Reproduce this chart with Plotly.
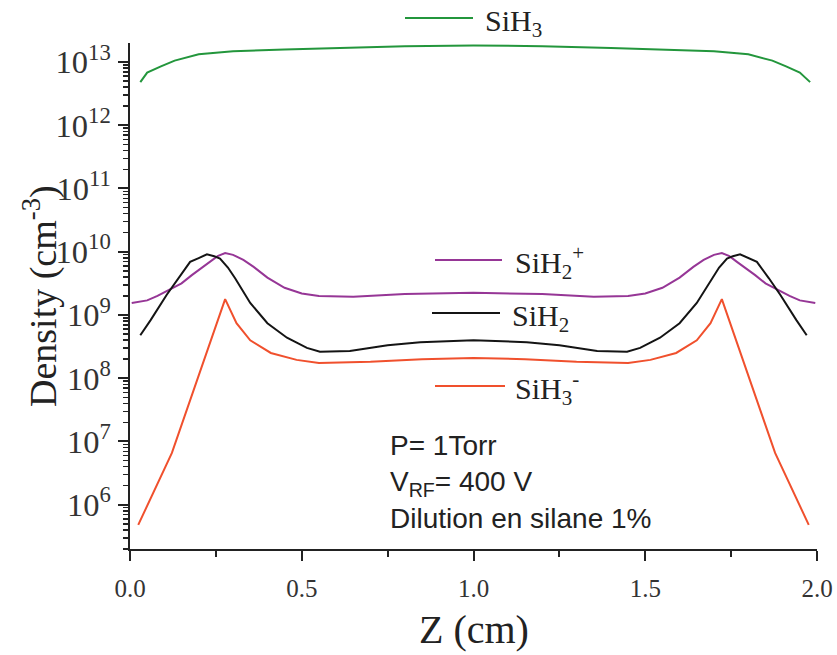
import plotly.graph_objects as go

# ---------------- data ----------------
z_sih3 = [0.03, 0.05, 0.09, 0.13, 0.20, 0.30, 0.45, 0.60, 0.80, 1.00, 1.20, 1.40, 1.55, 1.70, 1.80, 1.87, 1.91, 1.95, 1.98]
n_sih3 = [4.8e12, 6.8e12, 8.5e12, 1.05e13, 1.32e13, 1.48e13, 1.58e13, 1.66e13, 1.78e13, 1.82e13,
          1.78e13, 1.66e13, 1.58e13, 1.48e13, 1.32e13, 1.05e13, 8.5e12, 6.8e12, 4.8e12]

z_sih2p = [0.005, 0.05, 0.08, 0.116, 0.15, 0.18, 0.21, 0.233, 0.255, 0.277, 0.30, 0.33, 0.36, 0.40, 0.45, 0.50,
           0.55, 0.65, 0.80, 1.00, 1.20, 1.35, 1.45, 1.50, 1.55, 1.60, 1.64, 1.67, 1.70, 1.723, 1.745, 1.767,
           1.79, 1.82, 1.85, 1.884, 1.92, 1.95, 1.995]
n_sih2p = [1.55e9, 1.70e9, 2.0e9, 2.51e9, 3.16e9, 4.27e9, 5.62e9, 6.92e9, 8.51e9, 9.55e9, 8.91e9, 7.41e9, 5.75e9,
           3.89e9, 2.69e9, 2.19e9, 2.0e9, 1.95e9, 2.14e9, 2.24e9, 2.14e9, 1.95e9, 2.0e9, 2.19e9, 2.69e9, 3.89e9,
           5.75e9, 7.41e9, 8.91e9, 9.55e9, 8.51e9, 6.92e9, 5.62e9, 4.27e9, 3.16e9, 2.51e9, 2.0e9, 1.70e9, 1.55e9]

z_sih2 = [0.03, 0.06, 0.107, 0.14, 0.175, 0.20, 0.224, 0.245, 0.262, 0.285, 0.306, 0.35, 0.40, 0.457, 0.515,
          0.553, 0.64, 0.75, 0.845, 1.00, 1.155, 1.25, 1.36, 1.447, 1.485, 1.543, 1.60, 1.65, 1.694, 1.715,
          1.738, 1.755, 1.776, 1.80, 1.825, 1.86, 1.893, 1.94, 1.97]
n_sih2 = [4.79e8, 8.3e8, 2.09e9, 3.8e9, 6.92e9, 7.94e9, 9.12e9, 8.51e9, 7.76e9, 5.62e9, 3.8e9, 1.55e9, 7.41e8,
          4.37e8, 3.02e8, 2.63e8, 2.69e8, 3.31e8, 3.72e8, 3.98e8, 3.72e8, 3.31e8, 2.69e8, 2.63e8, 3.02e8,
          4.37e8, 7.41e8, 1.55e9, 3.8e9, 5.62e9, 7.76e9, 8.51e9, 9.12e9, 7.94e9, 6.92e9, 3.8e9, 2.09e9,
          8.3e8, 4.79e8]

z_sih3m = [0.024, 0.122, 0.277, 0.31, 0.35, 0.41, 0.485, 0.55, 0.70, 0.85, 1.00, 1.15, 1.30, 1.45, 1.515,
           1.59, 1.65, 1.69, 1.723, 1.878, 1.976]
n_sih3m = [4.8e5, 6.6e6, 1.78e9, 7.41e8, 3.98e8, 2.51e8, 1.95e8, 1.74e8, 1.82e8, 2.0e8, 2.09e8, 2.0e8,
           1.82e8, 1.74e8, 1.95e8, 2.51e8, 3.98e8, 7.41e8, 1.78e9, 6.6e6, 4.8e5]

x_ticks = [0.0, 0.5, 1.0, 1.5, 2.0]
x_ticktext = ["0.0", "0.5", "1.0", "1.5", "2.0"]

series_labels = ["SiH<sub>3</sub>", "SiH<sub>2</sub><sup>+</sup>", "SiH<sub>2</sub>", "SiH<sub>3</sub><sup>-</sup>"]
colors = ["#23963c", "#963696", "#141414", "#f0502d"]

# ---------------- figure geometry (page pixels) ----------------
W, H = 837, 655
PLOT_L, PLOT_R, PLOT_T, PLOT_B = 130, 817, 43, 549
PW, PH = PLOT_R - PLOT_L, PLOT_B - PLOT_T
L, T, R, B = PLOT_L, PLOT_T, W - PLOT_R, H - PLOT_B


def px(x):
    return (x - PLOT_L) / PW


def py(y):
    return (PLOT_B - y) / PH


SERIF = "Liberation Serif, Times New Roman, serif"
SANS = "Liberation Sans, Arial, sans-serif"

fig = go.Figure()
for zs, ns, c in [(z_sih3, n_sih3, colors[0]), (z_sih2p, n_sih2p, colors[1]),
                  (z_sih2, n_sih2, colors[2]), (z_sih3m, n_sih3m, colors[3])]:
    fig.add_trace(go.Scatter(x=zs, y=ns, mode="lines", line=dict(color=c, width=2), showlegend=False,
                             hoverinfo="skip"))

# legend-like labels (line sample + text)
legend_pos = [  # (x0, x1, y line, text x, text y)
    (405, 473, 18, 483, 23),
    (435, 502, 260, 513, 262),
    (432, 500, 313, 510, 318),
    (435, 505, 386, 513, 388),
]
shapes = []
annotations = []
for (x0, x1, yl, tx, ty), lab, c in zip(legend_pos, series_labels, colors):
    shapes.append(dict(type="line", xref="paper", yref="paper", x0=px(x0), x1=px(x1), y0=py(yl), y1=py(yl),
                       line=dict(color=c, width=2)))
    annotations.append(dict(xref="paper", yref="paper", x=px(tx), y=py(ty), xanchor="left", yanchor="middle",
                            text=lab, showarrow=False, font=dict(family=SERIF, size=30, color="#222")))

annotations.append(dict(xref="paper", yref="paper", x=px(388), y=py(482), xanchor="left", yanchor="middle",
                        align="left", showarrow=False,
                        text="P= 1Torr<br>V<sub>RF</sub>= 400 V<br>Dilution en silane 1%",
                        font=dict(family=SANS, size=28, color="#222")))
annotations.append(dict(xref="paper", yref="paper", x=px(40), y=0.5, xanchor="center", yanchor="middle",
                        textangle=-90, showarrow=False, text="Density (cm<sup>-3</sup>)",
                        font=dict(family=SERIF, size=38, color="#222")))
annotations.append(dict(xref="paper", yref="paper", x=px(474), y=py(654), xanchor="center", yanchor="bottom",
                        showarrow=False, text="Z (cm)", font=dict(family=SERIF, size=40, color="#222")))

fig.update_layout(
    width=W, height=H,
    margin=dict(l=L, r=R, t=T, b=B, pad=0, autoexpand=False),
    paper_bgcolor="white", plot_bgcolor="white",
    shapes=shapes, annotations=annotations,
    xaxis=dict(range=[0, 2.0], tickvals=x_ticks, ticktext=x_ticktext, ticks="outside", ticklen=10, tickwidth=2,
               tickcolor="#222", showline=True, linewidth=2, linecolor="#222", showgrid=False, zeroline=False,
               automargin=False,
               tickfont=dict(family=SERIF, size=25, color="#333"), ticklabelstandoff=6,
               minor=dict(ticks="outside", ticklen=6, tickwidth=2, tickcolor="#222", dtick=0.25, tick0=0)),
    yaxis=dict(type="log", range=[5.3, 13.3], dtick=1, exponentformat="power", ticks="outside", ticklen=10,
               tickwidth=2, tickcolor="#222", showline=True, linewidth=2, linecolor="#222", showgrid=False,
               zeroline=False, automargin=False,
               tickfont=dict(family=SERIF, size=26, color="#333"), ticklabelstandoff=2,
               minor=dict(ticks="outside", ticklen=5, tickwidth=1.5, tickcolor="#222", dtick="D1")),
)

fig.write_html("out.html", config={"displayModeBar": False, "staticPlot": True},
               post_script="document.body.style.margin='0';document.body.style.overflow='hidden';")
